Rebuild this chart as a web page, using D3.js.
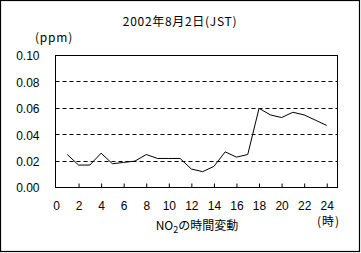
<!DOCTYPE html>
<html>
<head>
<meta charset="utf-8">
<script src="https://cdn.jsdelivr.net/npm/d3@7"></script>
<style>
  body { margin: 0; background: #fff; }
  text { font-family: "Liberation Sans", "Noto Sans CJK JP", sans-serif; font-size: 12px; fill: #000; }
  .jp { font-family: "Noto Sans CJK JP", sans-serif; }
</style>
</head>
<body>
<div id="chart"></div>
<script>
// hourly NO2 values (ppm), hours 1..24
var hours = d3.range(1, 25);
var no2 = [0.025, 0.017, 0.017, 0.026, 0.018, 0.019, 0.020, 0.025, 0.022, 0.022, 0.022, 0.014,
           0.012, 0.016, 0.027, 0.023, 0.025, 0.060, 0.055, 0.053, 0.057, 0.055, 0.051, 0.047];
var yTicks = [0, 0.02, 0.04, 0.06, 0.08, 0.10];
var xTicks = [0, 2, 4, 6, 8, 10, 12, 14, 16, 18, 20, 22, 24];
var titleText = "2002年8月2日(JST)";
var yUnit = "(ppm)";
var xUnit = "(時)";

var W = 361, H = 253;
var margin = {top: 55.5, right: 23.5, bottom: 65.5, left: 55.5},
    width = W - margin.left - margin.right,
    height = H - margin.top - margin.bottom;

var svg = d3.select("#chart").append("svg")
    .attr("width", W).attr("height", H);

// outer frame
svg.append("rect")
    .attr("x", 0.5).attr("y", 0.5)
    .attr("width", 359).attr("height", 251)
    .attr("fill", "#fff").attr("stroke", "#000").attr("stroke-width", 1.2);

var g = svg.append("g")
    .attr("transform", "translate(" + margin.left + "," + margin.top + ")");

var x = d3.scaleLinear().domain([0, 25]).range([0.5, width + 0.5]);
var y = d3.scaleLinear().domain([0, 0.10]).range([height, 0]);

// dashed gridlines
g.selectAll(".grid")
  .data(yTicks.filter(function(d){ return d > 0 && d < 0.1; }))
  .enter().append("line")
    .attr("x1", 0).attr("x2", width)
    .attr("y1", function(d){ return Math.round(y(d)); })
    .attr("y2", function(d){ return Math.round(y(d)); })
    .attr("stroke", "#000").attr("stroke-width", 1)
    .attr("stroke-dasharray", "4,3");

// plot border
g.append("rect")
    .attr("x", 0).attr("y", 0)
    .attr("width", width).attr("height", height)
    .attr("fill", "none").attr("stroke", "#000").attr("stroke-width", 1);

// y axis labels
var yAxis = g.append("g")
    .call(d3.axisLeft(y).tickValues(yTicks).tickFormat(d3.format(".2f")).tickSize(0).tickPadding(16));
yAxis.select(".domain").remove();
yAxis.selectAll("text").attr("font-family", null).attr("font-size", null).attr("dy", "0.36em");

// x axis: ticks pointing inward, labels below
var xAxis = g.append("g")
    .attr("transform", "translate(0," + height + ")")
    .call(d3.axisBottom(x).tickValues(xTicks).tickFormat(d3.format("d")).tickSize(-4).tickPadding(14));
xAxis.select(".domain").remove();
xAxis.selectAll(".tick line").attr("stroke", "#000");
xAxis.selectAll(".tick").filter(function(d){ return d === 0; }).select("line").remove();
xAxis.selectAll("text").attr("font-family", null).attr("font-size", null);

// line
var line = d3.line()
    .x(function(d, i){ return x(hours[i]); })
    .y(function(d){ return y(d); });
g.append("path")
    .datum(no2)
    .attr("d", line)
    .attr("fill", "none")
    .attr("stroke", "#000")
    .attr("stroke-width", 1);

// texts
svg.append("text").attr("class", "jp")
    .attr("x", 180).attr("y", 22).attr("dy", "0.36em")
    .attr("letter-spacing", "0.7px")
    .attr("text-anchor", "middle").text(titleText);
svg.append("text").attr("class", "jp")
    .attr("x", 35).attr("y", 37.5).attr("dy", "0.36em")
    .attr("letter-spacing", "0.8px")
    .text(yUnit);
svg.append("text").attr("class", "jp")
    .attr("x", 317).attr("y", 222).attr("dy", "0.36em")
    .attr("letter-spacing", "1px")
    .text(xUnit);

var xt = svg.append("text").attr("class", "jp")
    .attr("x", 197).attr("y", 226).attr("dy", "0.36em")
    .attr("text-anchor", "middle");
xt.append("tspan").text("NO");
xt.append("tspan").attr("dy", "3").attr("font-size", "9px").text("2");
xt.append("tspan").attr("dy", "-3").text("の時間変動");
</script>
</body>
</html>
